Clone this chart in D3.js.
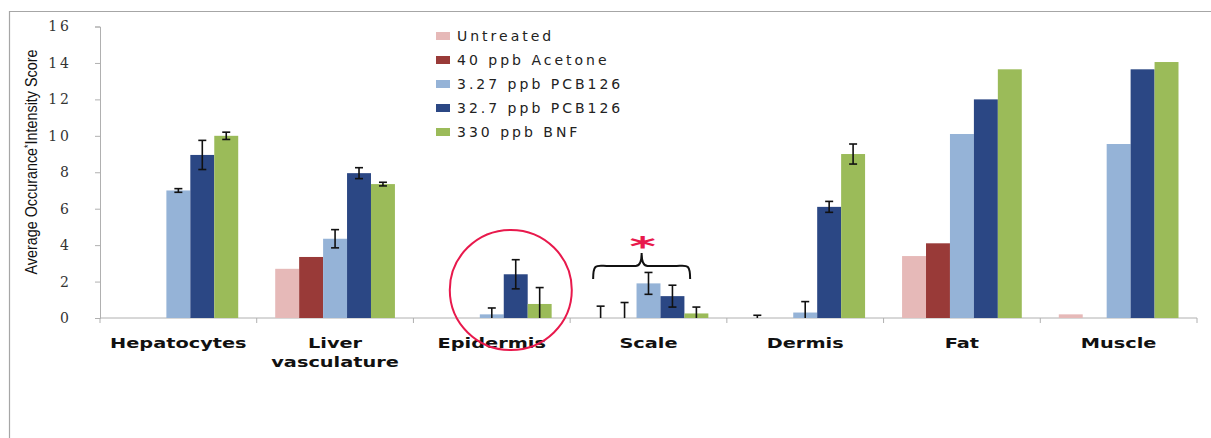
<!DOCTYPE html>
<html>
<head>
<meta charset="utf-8">
<script src="https://cdn.jsdelivr.net/npm/d3@7"></script>
<style>
  body { margin: 0; background: #fff; }
  text { font-family: "DejaVu Sans", Verdana, sans-serif; }
</style>
</head>
<body>
<div class="canvas"></div>
<script>
// data
const categories = ['Hepatocytes', 'Liver vasculature', 'Epidermis', 'Scale', 'Dermis', 'Fat', 'Muscle'];
const seriesNames = ['Untreated', '40 ppb Acetone', '3.27 ppb PCB126', '32.7 ppb PCB126', '330 ppb BNF'];
const untreated = [0, 2.7, 0, 0, 0, 3.4, 0.2];
const acetone = [0, 3.35, 0, 0, 0, 4.1, 0];
const pcbLow = [7.0, 4.35, 0.2, 1.9, 0.3, 10.1, 9.55];
const pcbHigh = [8.95, 7.95, 2.4, 1.2, 6.1, 12.0, 13.65];
const bnf = [10.0, 7.35, 0.77, 0.25, 9.0, 13.65, 14.05];
const untreatedErr = [null, null, null, 0.65, 0.15, null, null];
const acetoneErr = [null, null, null, 0.85, null, null, null];
const pcbLowErr = [0.1, 0.5, 0.35, 0.6, 0.6, null, null];
const pcbHighErr = [0.8, 0.3, 0.8, 0.6, 0.3, null, null];
const bnfErr = [0.2, 0.1, 0.9, 0.35, 0.55, null, null];
const yTicks = [0, 2, 4, 6, 8, 10, 12, 14, 16];

const colors = ['#e6b9b8', '#993a38', '#95b3d7', '#2b4784', '#9bbb59'];
const values = [untreated, acetone, pcbLow, pcbHigh, bnf];
const errors = [untreatedErr, acetoneErr, pcbLowErr, pcbHighErr, bnfErr];

const svg = d3.select('.canvas')
    .append('svg')
    .attr('width', 1211)
    .attr('height', 438);

// outer frame
svg.append('path')
    .attr('d', 'M9.5,438 V11.5 H1211')
    .attr('fill', 'none')
    .attr('stroke', '#a6a6a6')
    .attr('stroke-width', 1.2);

const margin = { left: 100, top: 26.5 };
const plotRight = 1197;
const plotBottom = 318;

// scales
const x0 = d3.scaleBand()
    .domain(categories)
    .range([margin.left, plotRight])
    .padding(0);

const x1 = d3.scaleBand()
    .domain(d3.range(5))
    .range([18.5, x0.bandwidth() - 18.5])
    .padding(0);

const y = d3.scaleLinear()
    .domain([0, 16])
    .range([plotBottom, margin.top]);

// y axis
const yAxis = svg.append('g')
    .attr('transform', `translate(${margin.left},0)`)
    .call(d3.axisLeft(y).tickValues(yTicks).tickSize(5).tickPadding(23));
yAxis.select('.domain').attr('stroke', '#b0b0b0');
yAxis.selectAll('.tick line').attr('stroke', '#b0b0b0');
yAxis.selectAll('.tick text')
    .attr('fill', '#333')
    .style('font-size', '14px')
    .style('letter-spacing', '3px')
    .style('font-family', '"DejaVu Serif", serif');

// y axis title
svg.append('text')
    .attr('transform', 'translate(37,162) rotate(-90)')
    .attr('text-anchor', 'middle')
    .attr('textLength', 225)
    .attr('lengthAdjust', 'spacingAndGlyphs')
    .style('font-family', '"Liberation Sans", Arial, sans-serif')
    .style('font-size', '16px')
    .attr('fill', '#111')
    .html('Average Occurance<tspan dy="-5" font-size="10">*</tspan><tspan dy="5">Intensity Score</tspan>');

// x axis
svg.append('line')
    .attr('x1', margin.left).attr('x2', plotRight)
    .attr('y1', plotBottom).attr('y2', plotBottom)
    .attr('stroke', '#b0b0b0');

const boundaries = categories.map(c => x0(c)).concat([plotRight]);
svg.selectAll('.xtick')
    .data(boundaries)
    .enter()
    .append('line')
    .attr('x1', d => d).attr('x2', d => d)
    .attr('y1', plotBottom).attr('y2', plotBottom + 5)
    .attr('stroke', '#b0b0b0');

// category labels (the original is stretched sideways)
categories.forEach(c => {
    const words = c === 'Liver vasculature' ? ['Liver', 'vasculature'] : [c];
    words.forEach((w, i) => {
        const t = svg.append('text')
            .attr('x', x0(c) + x0.bandwidth() / 2)
            .attr('y', 348 + i * 19)
            .attr('text-anchor', 'middle')
            .style('font-weight', 'bold')
            .style('font-size', '14px')
            .attr('fill', '#111')
            .text(w);
        const len = t.node().getComputedTextLength();
        t.attr('textLength', len * 1.38).attr('lengthAdjust', 'spacingAndGlyphs');
    });
});

// bars
const groups = svg.selectAll('.series')
    .data(values)
    .enter()
    .append('g')
    .attr('fill', (d, i) => colors[i]);

groups.each(function (vals, s) {
    d3.select(this).selectAll('rect')
        .data(vals)
        .enter()
        .append('rect')
        .attr('x', (v, i) => x0(categories[i]) + x1(s))
        .attr('width', x1.bandwidth())
        .attr('y', v => y(v))
        .attr('height', v => plotBottom - y(v));
});

// error bars
const errData = [];
errors.forEach((errs, s) => {
    errs.forEach((e, i) => {
        if (e !== null) errData.push({ s, i, v: values[s][i], e });
    });
});

const eb = svg.append('g')
    .attr('stroke', '#111')
    .attr('stroke-width', 1.6);

errData.forEach(d => {
    const cx = x0(categories[d.i]) + x1(d.s) + x1.bandwidth() / 2;
    const top = y(d.v + d.e);
    const bot = y(Math.max(0, d.v - d.e));
    eb.append('line').attr('x1', cx).attr('x2', cx).attr('y1', top).attr('y2', bot);
    eb.append('line').attr('x1', cx - 4).attr('x2', cx + 4).attr('y1', top).attr('y2', top);
    if (d.v - d.e > 0) {
        eb.append('line').attr('x1', cx - 4).attr('x2', cx + 4).attr('y1', bot).attr('y2', bot);
    }
});

// legend
const legend = svg.append('g')
    .attr('transform', 'translate(436,35)');

seriesNames.forEach((name, i) => {
    const row = legend.append('g').attr('transform', `translate(0,${i * 24})`);
    row.append('rect')
        .attr('x', 0).attr('y', -3)
        .attr('width', 14).attr('height', 8)
        .attr('fill', colors[i]);
    row.append('text')
        .attr('x', 21).attr('y', 6)
        .style('font-size', '14px')
        .style('letter-spacing', '3px')
        .attr('fill', '#222')
        .text(name);
});

// annotations: circle on Epidermis, brace + asterisk on Scale
const epiCx = x0('Epidermis') + x0.bandwidth() / 2 + 19;
svg.append('ellipse')
    .attr('cx', epiCx).attr('cy', 290)
    .attr('rx', 61).attr('ry', 60)
    .attr('fill', 'none')
    .attr('stroke', '#e8194c')
    .attr('stroke-width', 2);

const bx0 = x0('Scale') + 23;
const bx1 = x0('Scale') + 120;
const bm = (bx0 + bx1) / 2;
svg.append('path')
    .attr('d', `M${bx0},279 C${bx0},262 ${bx0 + 4},266 ${bx0 + 16},266 L${bm - 6},266 C${bm - 1},266 ${bm},260 ${bm},253 C${bm},260 ${bm + 1},266 ${bm + 6},266 L${bx1 - 16},266 C${bx1 - 4},266 ${bx1},262 ${bx1},279`)
    .attr('fill', 'none')
    .attr('stroke', '#111')
    .attr('stroke-width', 2);

svg.append('text')
    .attr('transform', `translate(${bm + 1},256) scale(1.4,0.75)`)
    .attr('text-anchor', 'middle')
    .style('font-size', '36px')
    .style('font-weight', 'bold')
    .attr('fill', '#e8194c')
    .text('*');
</script>
</body>
</html>
